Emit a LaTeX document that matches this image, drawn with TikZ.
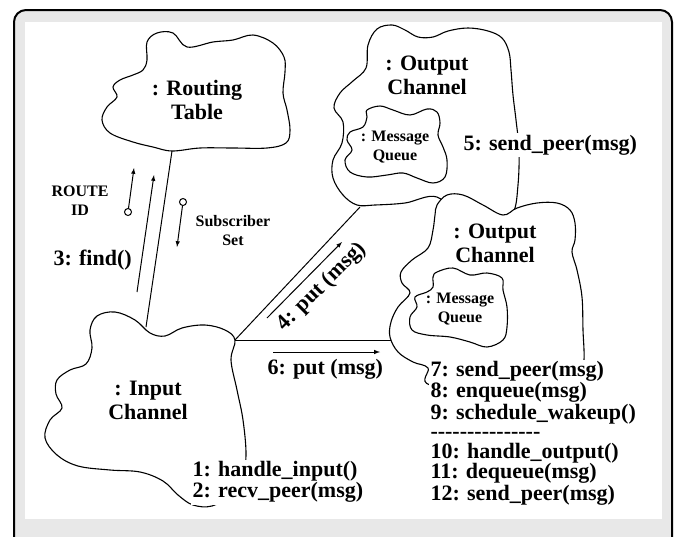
\documentclass[tikz,border=0pt]{standalone}
\usepackage{fontspec}
\setmainfont{Liberation Serif}
\definecolor{band}{gray}{0.91}
\newcommand\dashrow{-\kern0pt-\kern0pt-\kern0pt-\kern0pt-\kern0pt-\kern0pt-\kern0pt-\kern0pt-\kern0pt-\kern0pt-\kern0pt-\kern0pt-\kern0pt-\kern0pt-}

\begin{document}
\begin{tikzpicture}[x=1pt,y=-1pt,>=latex,line width=1pt,
  cloud/.style={draw,fill=white,line width=1.1pt,smooth cycle,tension=0.6},
  big/.style={font=\fontsize{22}{24}\selectfont\bfseries,align=center,inner sep=0pt},
  sml/.style={font=\fontsize{16}{19}\selectfont\bfseries,align=center,inner sep=0pt},
  calls/.style={font=\fontsize{22}{19.5}\selectfont\bfseries,align=left,fill=white,inner sep=2pt,anchor=north west}]
  \clip (0,0) rectangle (678,536);
  \draw[line width=2pt,rounded corners=12pt,fill=band] (14,10) rectangle (672,570);
  \fill[white] (25,22) rectangle (662,519);

  % routing table and input channel
  \draw[cloud] plot coordinates {(147,42) (157,33) (173,33) (187,47) (213,42) (233,40) (253,35) (273,43) (284,57) (285,72) (283,93) (287,110) (290,130) (286,143) (267,148) (233,148) (200,148) (172,151) (153,147) (133,142) (110,133) (102,120) (107,107) (117,97) (113,87) (120,80) (133,75) (143,70) (147,60)};
  \draw[cloud] plot coordinates {(97,316) (115,312) (135,320) (150,333) (165,336) (182,328) (205,325) (225,330) (235,340) (231,360) (237,390) (243,420) (246,455) (242,478) (230,495) (212,506) (193,505) (178,495) (163,481) (140,472) (110,470) (78,466) (57,455) (45,438) (50,420) (62,408) (56,394) (57,380) (70,370) (86,364) (92,348) (90,330)};

  % upper output channel
  \draw[cloud] plot coordinates {(368,45) (377,29) (392,25) (405,30) (418,37) (433,37) (448,31) (468,28) (488,31) (502,38) (509,52) (511,70) (513,95) (516,120) (519,150) (518,185) (513,213) (495,228) (462,222) (437,197) (405,203) (375,205) (357,205) (343,195) (333,178) (333,160) (342,143) (343,122) (334,108) (340,93) (353,81) (366,68)};
  \draw[cloud] plot coordinates {(367,110) (380,106) (393,110) (410,115) (427,109) (437,112) (440,123) (438,135) (443,147) (447,160) (445,177) (433,183) (417,178) (403,173) (387,175) (367,177) (350,172) (345,160) (352,150) (347,140) (350,132) (363,127) (367,117)};

  \coordinate (rtBot) at (172,151);
  \coordinate (icTop) at (146,327);
  \coordinate (icRight) at (235,340);
  \coordinate (ocUpBot) at (360,207);
  \coordinate (ocLowLeft) at (392,340);
  \draw (rtBot) -- (icTop);
  \draw (icRight) -- (ocUpBot);
  \draw (icRight) -- (ocLowLeft);

  % lower output channel
  \draw[cloud] plot coordinates {(437,205) (447,195) (463,195) (483,205) (503,215) (517,208) (537,203) (557,203) (570,210) (575,223) (575,240) (572,252) (577,270) (582,297) (583,330) (584,360) (580,385) (500,390) (430,385) (428,368) (413,362) (398,352) (390,337) (391,322) (398,307) (410,293) (402,283) (401,272) (412,260) (428,248) (433,230) (435,215)};
  \draw[cloud] plot coordinates {(437,272) (453,268) (470,275) (487,273) (502,278) (503,290) (507,307) (507,327) (503,340) (487,347) (470,342) (450,337) (427,335) (412,330) (410,317) (417,307) (415,297) (427,292) (433,287) (433,277)};

  % message arrows
  \coordinate (findTail) at (137,292);
  \coordinate (findHead) at (154,175);
  \coordinate (ridTail) at (128,212);
  \coordinate (ridHead) at (134,168);
  \coordinate (subTail) at (183,202);
  \coordinate (subHead) at (177,247);
  \coordinate (put4Tail) at (267,318);
  \coordinate (put4Head) at (342,242);
  \coordinate (put6Tail) at (273,352);
  \coordinate (put6Head) at (380,352);
  \draw[->] (findTail) -- (findHead);
  \draw[->] (ridTail) -- (ridHead);
  \draw[->] (subTail) -- (subHead);
  \draw[->] (put4Tail) -- (put4Head);
  \draw[->] (put6Tail) -- (put6Head);
  \draw[fill=white] (ridTail) circle (3.5);
  \draw[fill=white] (subTail) circle (3.5);

  % labels
  \node[big] (rt) at (197,100) {: Routing\\Table};
  \node[big] (ic) at (148,400) {: Input\\Channel};
  \node[big] (ocUp) at (427,75) {: Output\\Channel};
  \node[big] (ocLow) at (495,243) {: Output\\Channel};
  \node[sml] (mqUp) at (395,147) {: Message\\Queue};
  \node[sml] (mqLow) at (460,309) {: Message\\Queue};
  \node[sml] (rid) at (80,201) {ROUTE\\ID};
  \node[sml] (sub) at (233,231) {Subscriber\\Set};
  \node[big,anchor=base west] (find) at (53,265) {3: find()};
  \node[big,anchor=base west,fill=white,inner sep=2pt] (send5) at (461,150) {5: send\_peer(msg)};
  \node[big,anchor=base west] (put6) at (267,374) {6: put (msg)};
  \node[big,rotate=45] (put4) at (322,287) {4: put (msg)};
  \node[calls] (inCalls) at (190,459) {1: handle\_input()\\2: recv\_peer(msg)};
  \node[calls] (outCalls) at (428,359) {7: send\_peer(msg)\\8: enqueue(msg)\\9: schedule\_wakeup()\\\dashrow\\10: handle\_output()\\11: dequeue(msg)\\12: send\_peer(msg)};
\end{tikzpicture}
\end{document}
